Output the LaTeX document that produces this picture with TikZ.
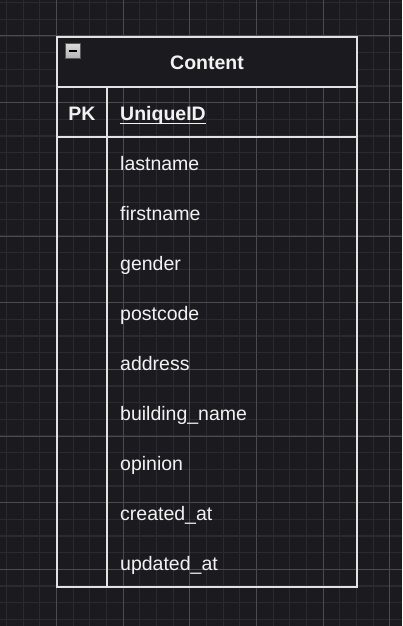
\documentclass[tikz,border=0pt]{standalone}
\usepackage{fontspec}
\usetikzlibrary{calc}
\setmainfont{Liberation Sans}
\definecolor{bg}{HTML}{1B1A1F}
\definecolor{gminor}{HTML}{2B2A30}
\definecolor{gmajor}{HTML}{4A4A4F}
\definecolor{edge}{HTML}{E2E2E2}
\definecolor{txt}{HTML}{F2F2F2}
\begin{document}
\begin{tikzpicture}[x=1pt,y=-1pt,
  rowtext/.style={anchor=base west,text=txt,font=\fontsize{19.5}{20}\selectfont,inner sep=0pt},
  boldtext/.style={anchor=base,text=txt,font=\fontsize{19.5}{20}\selectfont\bfseries,inner sep=0pt},
  tableline/.style={draw=edge,line width=2pt}]
\useasboundingbox (0,0) rectangle (402,626);
\fill[bg] (0,0) rectangle (402,626);
% minor grid
\foreach \i in {0,...,24} {
  \draw[gminor,line width=1.2pt] ({6.5+16.667*\i},0) -- ({6.5+16.667*\i},626);
}
\foreach \i in {0,...,37} {
  \draw[gminor,line width=1.2pt] (0,{2.7+16.667*\i}) -- (402,{2.7+16.667*\i});
}
% major grid
\foreach \i in {0,...,5} {
  \draw[gmajor,line width=1pt] ({56.5+66.667*\i},0) -- ({56.5+66.667*\i},626);
}
\foreach \i in {0,...,9} {
  \draw[gmajor,line width=1pt] (0,{36+66.667*\i}) -- (402,{36+66.667*\i});
}
% table
\coordinate (tl) at (57,37);
\coordinate (br) at (357,587);
\fill[bg] (57,37) rectangle (357,87);
\draw[tableline] (57,87) -- (357,87);
\draw[tableline] (57,137) -- (357,137);
\draw[tableline] (107,87) -- (107,587);
\draw[tableline] (tl) rectangle (br);
% collapse icon
\shade[top color=gray!30,bottom color=gray!60,draw=gray!70!black,line width=1pt] (65,44) rectangle (80,59);
\draw[black,line width=2pt] (68.5,51.5) -- (76.5,51.5);
% header
\node[boldtext] (title) at (207,70) {Content};
\node[boldtext] (pk) at (82,120.5) {PK};
\node[rowtext] (uid) at (120,120.5) {\bfseries UniqueID};
\draw[txt,line width=1.5pt] ($(uid.base west)+(0,3.2)$) -- ($(uid.base east)+(0,3.2)$);
% rows
\foreach \t [count=\k from 0] in {lastname,firstname,gender,postcode,address,building\_name,opinion,created\_at,updated\_at} {
  \node[rowtext] (r\k) at (120,{170.5+50*\k}) {\t};
}
\end{tikzpicture}
\end{document}
